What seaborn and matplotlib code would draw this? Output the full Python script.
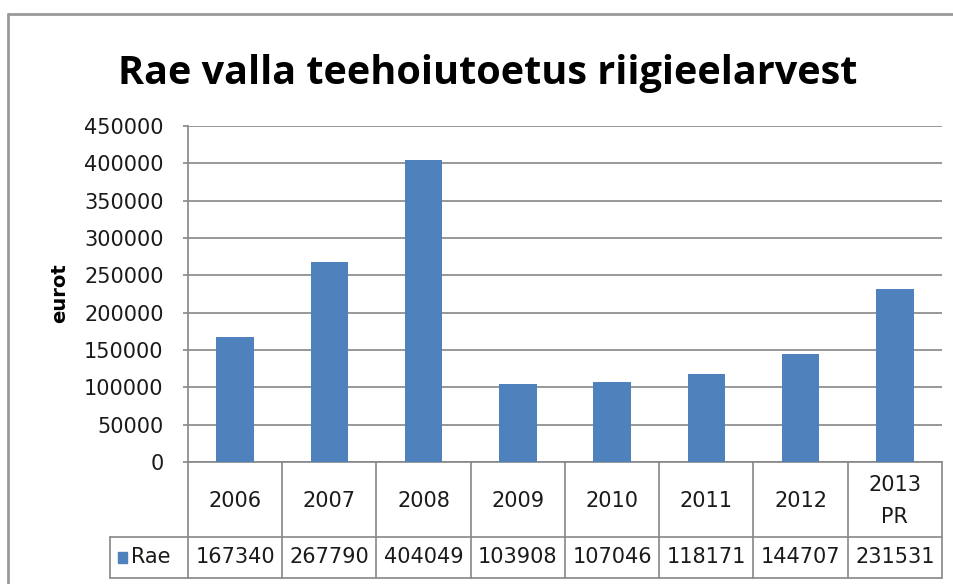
import matplotlib
matplotlib.use("Agg")
import matplotlib.pyplot as plt
import matplotlib.transforms as mtransforms
import seaborn as sns

# === data ===
years = ["2006", "2007", "2008", "2009", "2010", "2011", "2012", "2013\nPR"]
rae = [167340, 267790, 404049, 103908, 107046, 118171, 144707, 231531]
series_name = "Rae"
y_ticks = list(range(0, 450001, 50000))

bar_color = "#4F81BD"
line_color = "#868686"
text_color = "#1a1a1a"

sns.set_theme(style="white")
plt.rcParams["font.family"] = ["DejaVu Sans"]

W, H = 954, 584
fig = plt.figure(figsize=(W / 100, H / 100), dpi=100)
fig.patch.set_facecolor("white")


def fx(px):
    return px / W


def fy(py):
    return 1 - py / H


ax = fig.add_axes([fx(188), fy(462), fx(942) - fx(188), fy(126) - fy(462)])

sns.barplot(x=list(range(len(years))), y=rae, color=bar_color, width=0.4,
            saturation=1, linewidth=0, ax=ax, zorder=3)

ax.set_xlim(-0.5, len(years) - 0.5)
ax.set_ylim(0, 450000)
ax.set_yticks(y_ticks)
ax.set_yticklabels([str(t) for t in y_ticks], fontsize=15, color=text_color)
ax.set_xticks([])
ax.yaxis.grid(True, color=line_color, linewidth=1.2, zorder=0)
for s in ["top", "right"]:
    ax.spines[s].set_visible(False)
ax.spines["left"].set_color(line_color)
ax.spines["bottom"].set_color(line_color)
ax.spines["left"].set_linewidth(1.2)
ax.spines["bottom"].set_linewidth(1.2)
ax.tick_params(axis="y", length=3.6, width=1.2, color=line_color, left=True, pad=14)
ax.set_xlabel("")
ax.set_ylabel("")
fig.text(fx(60), fy(293), "eurot", rotation=90, ha="center", va="center",
         fontsize=14, fontweight="bold", color="black")

# title
fig.text(fx(488), fy(84), "Rae valla teehoiutoetus riigieelarvest",
         ha="center", va="baseline", fontsize=28.5, fontweight="bold",
         color="black", family="Open Sans")

# data table under the axis
tr = mtransforms.blended_transform_factory(ax.transData, fig.transFigure)
row1_top, row1_bot, row2_bot = fy(462), fy(537), fy(578)
n = len(years)
for i in range(n + 1):
    xb = i - 0.5
    ax.plot([xb, xb], [row1_top, row2_bot], transform=tr, color=line_color,
            lw=1.2, clip_on=False)
for yy in (row1_bot, row2_bot):
    ax.plot([-0.5, n - 0.5], [yy, yy], transform=tr, color=line_color, lw=1.2, clip_on=False)
    fig.add_artist(plt.Line2D([fx(110), fx(188)], [yy, yy], transform=fig.transFigure,
                              color=line_color, lw=1.2))
fig.add_artist(plt.Line2D([fx(110), fx(110)], [row1_bot, row2_bot], transform=fig.transFigure,
                          color=line_color, lw=1.2))

for i, (yr, v) in enumerate(zip(years, rae)):
    ax.text(i, fy(501), yr, transform=tr, ha="center", va="center",
            fontsize=15, color=text_color, linespacing=1.8, clip_on=False)
    ax.text(i, fy(557), str(v), transform=tr, ha="center", va="center",
            fontsize=15, color=text_color, clip_on=False)

# legend key in the table
fig.patches.append(plt.Rectangle((fx(118), fy(563)), fx(9), fy(552) - fy(563),
                                 transform=fig.transFigure, color=bar_color, figure=fig))
fig.text(fx(131), fy(557), series_name, ha="left", va="center", fontsize=15, color=text_color)

# outer chart frame
fig.add_artist(plt.Line2D([fx(8), fx(8)], [fy(14), 0], transform=fig.transFigure, color="#999999", lw=2))
fig.add_artist(plt.Line2D([fx(8), 1], [fy(14), fy(14)], transform=fig.transFigure, color="#999999", lw=2))

fig.savefig("out.png", dpi=100)
